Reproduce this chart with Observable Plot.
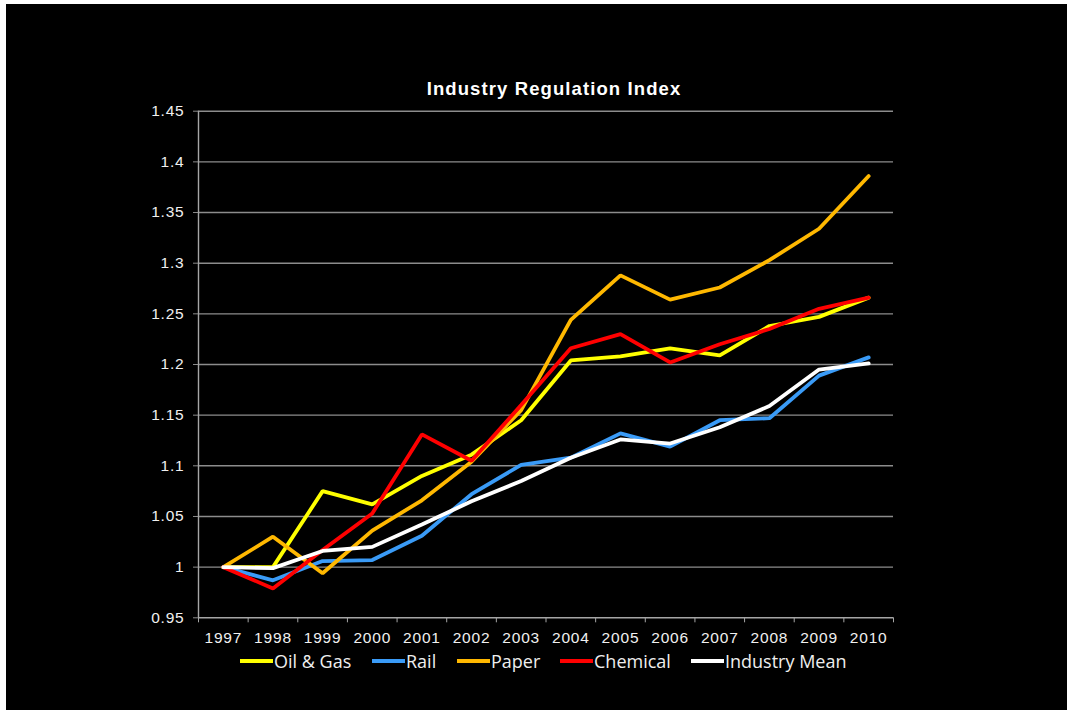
<!DOCTYPE html>
<html>
<head>
<meta charset="utf-8">
<script src="https://cdn.jsdelivr.net/npm/d3@7"></script>
<script src="https://cdn.jsdelivr.net/npm/@observablehq/plot@0.6"></script>
<style>
  html, body { margin: 0; padding: 0; background: #ffffff; }
  #chart { position: absolute; left: 6px; top: 4px; width: 1061px; height: 706px; background: #000; overflow: hidden; }
  #title { box-sizing: border-box; height: 90px; padding-top: 74.5px; padding-left: 35px; text-align: center;
           font-family: "Liberation Sans", Arial, sans-serif; font-weight: bold; font-size: 18.5px; line-height: 20px;
           letter-spacing: 1.1px; color: #fff; white-space: nowrap; }
  #plot svg { display: block; }
  #legend { position: relative; height: 52px; font-family: "Open Sans", sans-serif; font-size: 18px; line-height: 18px; color: #eee; }
  #legend .sw { position: absolute; height: 4px; width: 33px; top: 4.5px; }
  #legend .tx { position: absolute; top: -2.5px; white-space: nowrap; }
</style>
</head>
<body>
<div id="chart">
  <div id="title">Industry Regulation Index</div>
  <div id="plot"></div>
  <div id="legend"></div>
</div>
<script>
const years = [1997, 1998, 1999, 2000, 2001, 2002, 2003, 2004, 2005, 2006, 2007, 2008, 2009, 2010];
const oilGas   = [1.000, 1.000, 1.075, 1.062, 1.090, 1.111, 1.145, 1.204, 1.208, 1.216, 1.209, 1.238, 1.247, 1.266];
const rail     = [1.000, 0.987, 1.006, 1.007, 1.031, 1.072, 1.101, 1.108, 1.132, 1.119, 1.145, 1.147, 1.189, 1.207];
const paper    = [1.000, 1.030, 0.994, 1.036, 1.066, 1.104, 1.155, 1.244, 1.288, 1.264, 1.276, 1.303, 1.334, 1.386];
const chemical = [1.000, 0.979, 1.017, 1.053, 1.131, 1.105, 1.160, 1.216, 1.230, 1.202, 1.220, 1.235, 1.255, 1.266];
const industryMean = [1.000, 0.999, 1.016, 1.020, 1.042, 1.065, 1.085, 1.108, 1.126, 1.122, 1.138, 1.159, 1.195, 1.201];
const seriesNames = ["Oil & Gas", "Rail", "Paper", "Chemical", "Industry Mean"];
const seriesColors = ["#FFFF00", "#3A9BF7", "#FFB800", "#FF0000", "#FFFFFF"];
const yTicks = [0.95, 1, 1.05, 1.1, 1.15, 1.2, 1.25, 1.3, 1.35, 1.4, 1.45];
const title = "Industry Regulation Index";

const seriesValues = [oilGas, rail, paper, chemical, industryMean];
const rows = [];
seriesNames.forEach((name, s) => {
  years.forEach((yr, i) => rows.push({series: name, year: yr, value: seriesValues[s][i]}));
});
const xEdges = years.map(y => y - 0.5).concat([years[years.length - 1] + 0.5]);

const chart = Plot.plot({
  width: 1061,
  height: 560,
  marginLeft: 192,
  marginRight: 174,
  marginTop: 16.7,
  marginBottom: 36.7,
  style: {background: "black", color: "#eee", fontFamily: "'Liberation Sans', Arial, sans-serif", fontSize: "15px"},
  x: {type: "linear", domain: [xEdges[0], xEdges[xEdges.length - 1]]},
  y: {domain: [yTicks[0], yTicks[yTicks.length - 1]]},
  color: {domain: seriesNames, range: seriesColors},
  marks: [
    Plot.gridY(yTicks.slice(1), {stroke: "#8c8c8c", strokeOpacity: 1, strokeWidth: 1.4}),
    Plot.axisY({ticks: yTicks, tickSize: 5, tickPadding: 9, tickFormat: d => String(d), stroke: "#8c8c8c", fill: "#f0f0f0", fontSize: 15, label: null}),
    Plot.axisX({ticks: xEdges, tickSize: 5, tickFormat: () => "", stroke: "#a6a6a6", label: null}),
    Plot.axisX({ticks: years, tickSize: 0, tickPadding: 14, tickFormat: d => String(d), fill: "#f0f0f0", fontSize: 15, label: null}),
    Plot.ruleX([xEdges[0]], {stroke: "#a6a6a6", strokeWidth: 1.4}),
    Plot.ruleY([yTicks[0]], {stroke: "#a6a6a6", strokeWidth: 1.4}),
    Plot.line(rows, {x: "year", y: "value", z: "series", stroke: "series", strokeWidth: 3.8, strokeLinejoin: "miter"})
  ]
});
chart.querySelectorAll("text").forEach(t => {
  t.style.fontFamily = "'Liberation Sans', Arial, sans-serif";
  t.style.fontSize = "15.5px";
  t.style.letterSpacing = "0.8px";
});
document.getElementById("plot").appendChild(chart);

const legendLefts = [234, 366, 451, 554, 685];
const legend = document.getElementById("legend");
seriesNames.forEach((name, i) => {
  const sw = document.createElement("div");
  sw.className = "sw";
  sw.style.left = legendLefts[i] + "px";
  sw.style.background = seriesColors[i];
  legend.appendChild(sw);
  const tx = document.createElement("span");
  tx.className = "tx";
  tx.style.left = (legendLefts[i] + 34) + "px";
  tx.textContent = name;
  legend.appendChild(tx);
});
</script>
</body>
</html>
